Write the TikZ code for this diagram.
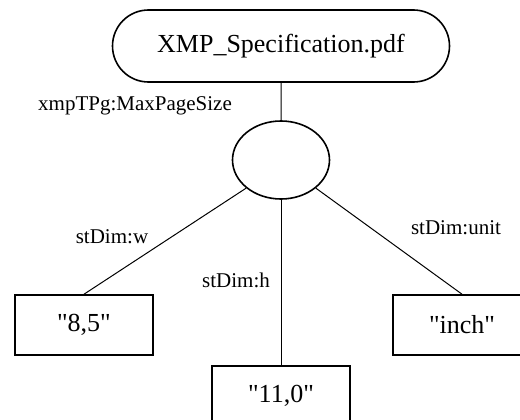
\documentclass[tikz,border=0pt]{standalone}
\usepackage{fontspec}
\setmainfont{Liberation Serif}[Ligatures=TeXOff]
\usetikzlibrary{shapes.misc,shapes.geometric}
\tikzset{
  docnode/.style={draw,line width=1.6pt,rounded rectangle,minimum width=337pt,minimum height=72pt,inner sep=0pt,font=\fontsize{26}{30}\selectfont},
  blanknode/.style={draw,line width=1.6pt,ellipse,minimum width=97pt,minimum height=78pt,inner sep=0pt},
  valnode/.style={draw,line width=1.6pt,rectangle,minimum width=138pt,minimum height=60pt,inner sep=0pt,font=\fontsize{26}{30}\selectfont},
  proplabel/.style={font=\fontsize{21}{25}\selectfont,inner sep=0pt},
  arc/.style={line width=1pt}
}
\begin{document}
\begin{tikzpicture}[x=1pt,y=-1pt]
\useasboundingbox (0,0) rectangle (520,420);
\node[docnode] (doc) at (281,46) {XMP\_Specification.pdf};
\node[blanknode] (size) at (281,160) {};
\node[valnode] (w) at (84,325) {"8,5"};
\node[valnode] (h) at (281,396) {"11,0"};
\node[valnode] (u) at (462,325) {"inch"};
\draw[arc] (doc) -- (size);
\draw[arc] (size.south west) -- (w.north);
\draw[arc] (size) -- (h);
\draw[arc] (size.south east) -- (u.north);
\node[proplabel] (lmax) at (135,106) {xmpTPg:MaxPageSize};
\node[proplabel] (lw) at (112,237) {stDim:w};
\node[proplabel] (lh) at (236,280) {stDim:h};
\node[proplabel] (lu) at (456,228) {stDim:unit};
\end{tikzpicture}
\end{document}
